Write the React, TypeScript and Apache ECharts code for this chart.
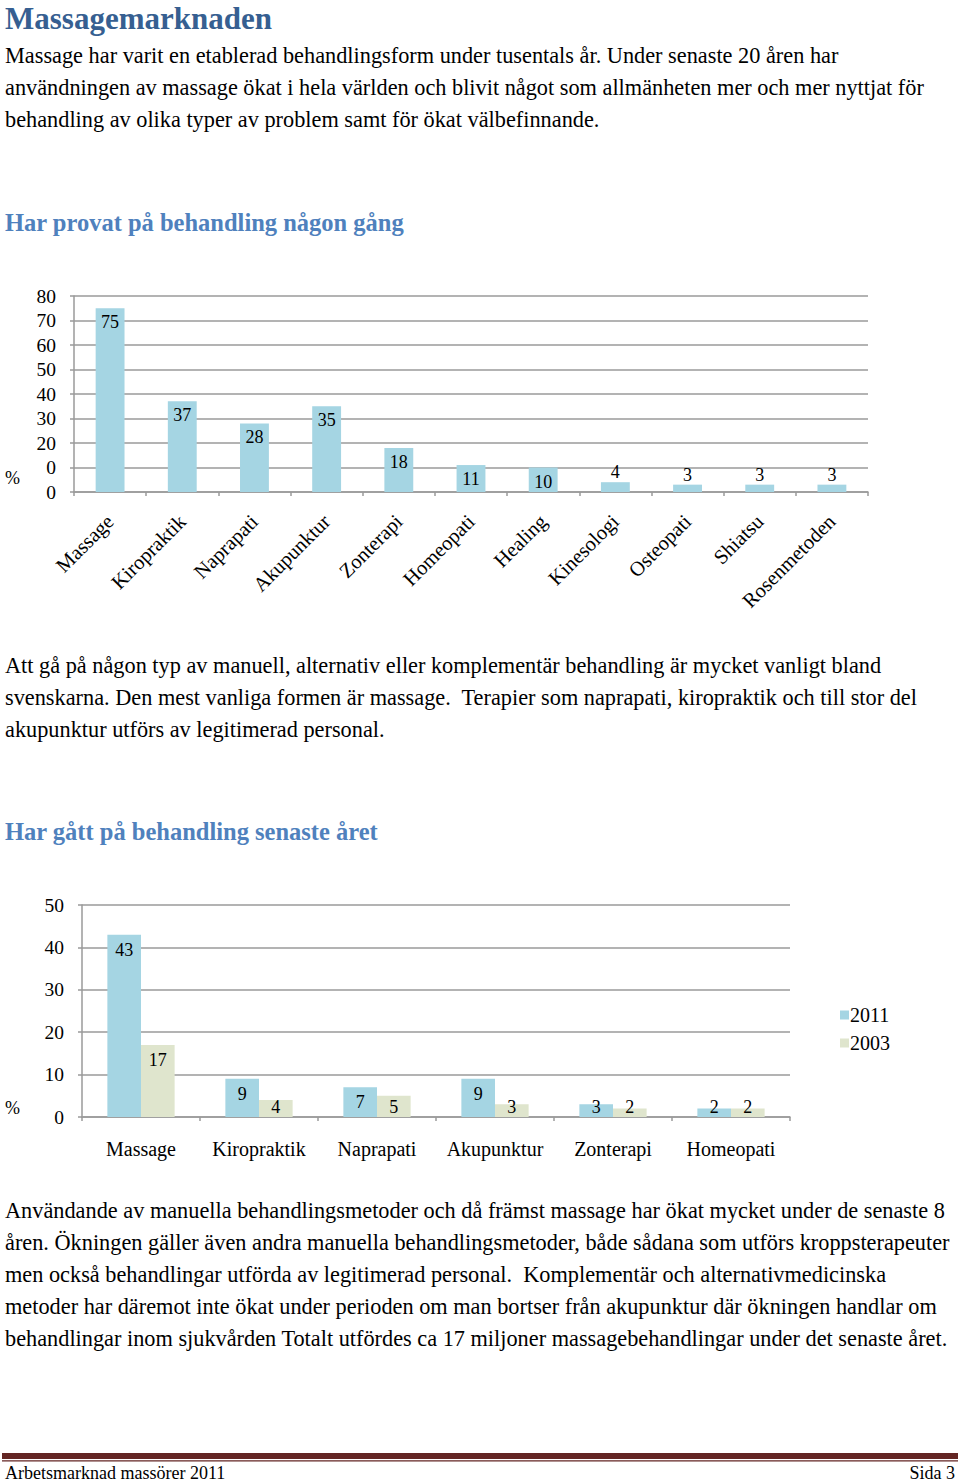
import React, { useEffect, useRef } from "react";
import * as echarts from "echarts";

const cats1 = ["Massage", "Kiropraktik", "Naprapati", "Akupunktur", "Zonterapi", "Homeopati", "Healing", "Kinesologi", "Osteopati", "Shiatsu", "Rosenmetoden"];
const vals1 = [75, 37, 28, 35, 18, 11, 10, 4, 3, 3, 3];
const yTicks1 = ["0", "0", "20", "30", "40", "50", "60", "70", "80"];

const cats2 = ["Massage", "Kiropraktik", "Naprapati", "Akupunktur", "Zonterapi", "Homeopati"];
const series2011 = [43, 9, 7, 9, 3, 2];
const series2003 = [17, 4, 5, 3, 2, 2];
const yTicks2 = ["0", "10", "20", "30", "40", "50"];

const titleText = "Massagemarknaden";
const sub1 = "Har provat på behandling någon gång";
const sub2 = "Har gått på behandling senaste året";
const para1 = [
  "Massage har varit en etablerad behandlingsform under tusentals år. Under senaste 20 åren har",
  "användningen av massage ökat i hela världen och blivit något som allmänheten mer och mer nyttjat för",
  "behandling av olika typer av problem samt för ökat välbefinnande.",
];
const para2 = [
  "Att gå på någon typ av manuell, alternativ eller komplementär behandling är mycket vanligt bland",
  "svenskarna. Den mest vanliga formen är massage.  Terapier som naprapati, kiropraktik och till stor del",
  "akupunktur utförs av legitimerad personal.",
];
const para3 = [
  "Användande av manuella behandlingsmetoder och då främst massage har ökat mycket under de senaste 8",
  "åren. Ökningen gäller även andra manuella behandlingsmetoder, både sådana som utförs kroppsterapeuter",
  "men också behandlingar utförda av legitimerad personal.  Komplementär och alternativmedicinska",
  "metoder har däremot inte ökat under perioden om man bortser från akupunktur där ökningen handlar om",
  "behandlingar inom sjukvården Totalt utfördes ca 17 miljoner massagebehandlingar under det senaste året.",
];
const footerLeft = "Arbetsmarknad massörer 2011";
const footerRight = "Sida 3";

const SERIF = '"Liberation Serif", "Times New Roman", serif';
const BLUE = "#a5d5e3";
const OLIVE = "#dfe5cd";
const GRID = "#9a9a9a";

export default function App() {
  const ref = useRef<HTMLDivElement>(null);
  useEffect(() => {
    if (!ref.current) return;
    const chart = echarts.init(ref.current, null, { renderer: "svg" });

    const para = (lines: string[], top: number) => ({
      type: "text",
      left: 5,
      top,
      style: { text: lines.join("\n"), font: `22.3px ${SERIF}`, fill: "#000", lineHeight: 32 },
    });

    const data1 = vals1.map((v) => ({
      value: v,
      label: v >= 10 ? { position: "insideTop", distance: 5 } : { position: "top", distance: 1 },
    }));
    const lab2 = (v: number) =>
      v >= 6 ? { position: "insideTop", distance: 6 } : { position: "insideBottom", distance: 1 };
    const d2011 = series2011.map((v) => ({ value: v, label: lab2(v) }));
    const d2003 = series2003.map((v) => ({ value: v, label: lab2(v) }));

    const axisCommon = {
      axisLine: { show: true, lineStyle: { color: GRID, width: 1.5 } },
      axisTick: { show: true, length: 4, lineStyle: { color: GRID, width: 1.5 } },
    };

    chart.setOption({
      animation: false,
      backgroundColor: "#fff",
      textStyle: { fontFamily: SERIF },
      grid: [
        { left: 74, top: 296, width: 794, height: 196 },
        { left: 82, top: 905, width: 708, height: 212 },
      ],
      legend: {
        data: ["2011", "2003"],
        orient: "vertical",
        left: 835,
        top: 1000,
        itemWidth: 9,
        itemHeight: 9,
        itemGap: 8,
        icon: "rect",
        textStyle: { fontFamily: SERIF, fontSize: 20, color: "#000", padding: [0, 0, 0, -4] },
      },
      xAxis: [
        {
          type: "category",
          gridIndex: 0,
          data: cats1,
          ...axisCommon,
          axisLabel: { rotate: 45, margin: 26, fontFamily: SERIF, fontSize: 20.5, color: "#000", interval: 0 },
        },
        {
          type: "category",
          gridIndex: 1,
          data: cats2,
          ...axisCommon,
          axisLabel: { margin: 22, fontFamily: SERIF, fontSize: 20, color: "#000", interval: 0 },
        },
      ],
      yAxis: [
        {
          type: "value",
          gridIndex: 0,
          min: 0,
          max: 80,
          interval: 10,
          ...axisCommon,
          splitLine: { show: true, lineStyle: { color: GRID, width: 1.5 } },
          axisLabel: {
            margin: 18,
            fontFamily: SERIF,
            fontSize: 19.5,
            color: "#000",
            formatter: (v: number) => yTicks1[Math.round(v / 10)],
          },
        },
        {
          type: "value",
          gridIndex: 1,
          min: 0,
          max: 50,
          interval: 10,
          ...axisCommon,
          splitLine: { show: true, lineStyle: { color: GRID, width: 1.5 } },
          axisLabel: {
            margin: 18,
            fontFamily: SERIF,
            fontSize: 19.5,
            color: "#000",
            formatter: (v: number) => yTicks2[Math.round(v / 10)],
          },
        },
      ],
      series: [
        {
          type: "bar",
          name: "Har provat",
          xAxisIndex: 0,
          yAxisIndex: 0,
          data: data1,
          barWidth: "40%",
          itemStyle: { color: BLUE },
          label: { show: true, fontFamily: SERIF, fontSize: 18, color: "#000" },
        },
        {
          type: "bar",
          name: "2011",
          xAxisIndex: 1,
          yAxisIndex: 1,
          data: d2011,
          barGap: "0%",
          barCategoryGap: "43%",
          itemStyle: { color: BLUE },
          label: { show: true, fontFamily: SERIF, fontSize: 18, color: "#000" },
        },
        {
          type: "bar",
          name: "2003",
          xAxisIndex: 1,
          yAxisIndex: 1,
          data: d2003,
          barGap: "0%",
          barCategoryGap: "43%",
          itemStyle: { color: OLIVE },
          label: { show: true, fontFamily: SERIF, fontSize: 18, color: "#000" },
        },
      ],
      graphic: [
        {
          type: "text",
          left: 5,
          top: 3,
          style: { text: titleText, font: `bold 31px ${SERIF}`, fill: "#365f91" },
        },
        para(para1, 39),
        {
          type: "text",
          left: 5,
          top: 210,
          style: { text: sub1, font: `bold 24.5px ${SERIF}`, fill: "#4f81bd" },
        },
        { type: "text", left: 5, top: 469, style: { text: "%", font: `18px ${SERIF}`, fill: "#000" } },
        para(para2, 649),
        {
          type: "text",
          left: 5,
          top: 819,
          style: { text: sub2, font: `bold 24.5px ${SERIF}`, fill: "#4f81bd" },
        },
        { type: "text", left: 5, top: 1099, style: { text: "%", font: `18px ${SERIF}`, fill: "#000" } },
        para(para3, 1194),
        { type: "rect", shape: { x: 2, y: 1453, width: 956, height: 6 }, style: { fill: "#632523" } },
        { type: "rect", shape: { x: 2, y: 1460.3, width: 956, height: 1.2 }, style: { fill: "#632523" } },
        { type: "text", left: 5, top: 1464, style: { text: footerLeft, font: `18px ${SERIF}`, fill: "#000" } },
        { type: "text", right: 5, top: 1464, style: { text: footerRight, font: `18px ${SERIF}`, fill: "#000" } },
      ],
    });
    return () => chart.dispose();
  }, []);
  return (
    <div
      ref={ref}
      style={{ position: "absolute", left: 0, top: 0, width: 960, height: 1483, background: "#fff" }}
    />
  );
}
